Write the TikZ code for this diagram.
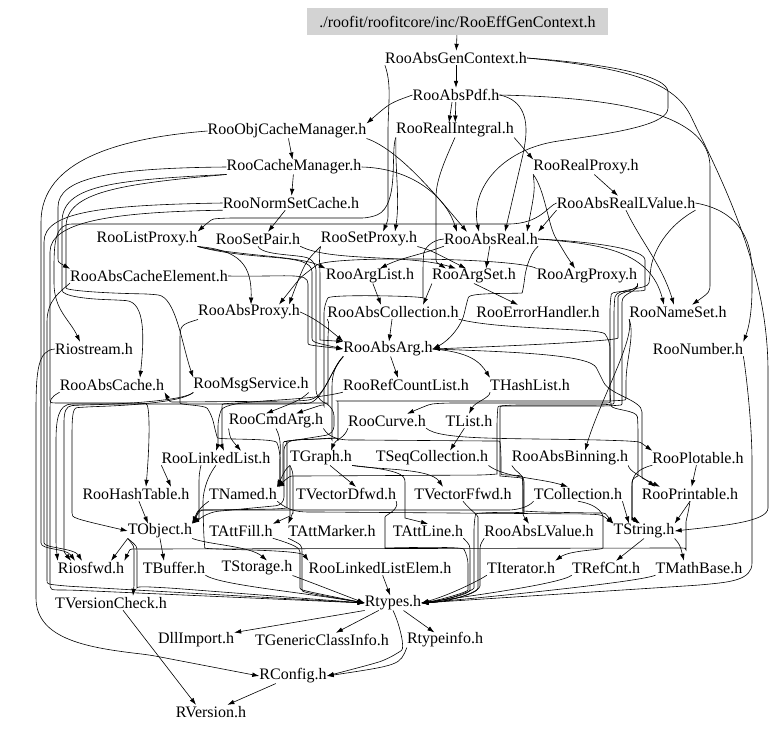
\documentclass[tikz,border=0pt]{standalone}
\usepackage{fontspec}
\setmainfont{Liberation Serif}
\usetikzlibrary{arrows.meta}
\definecolor{boxgray}{HTML}{D3D3D3}
\begin{document}
\begin{tikzpicture}[x=1pt,y=-1pt,
  n/.style={inner sep=0pt, minimum height=14pt, font=\fontsize{16}{18}\selectfont, anchor=center},
  e/.style={draw=black, line width=0.6pt, -{Latex[length=7pt,width=4.6pt]}, rounded corners=8pt}]
\useasboundingbox (0,0) rectangle (779,732);
% nodes
\node[n, fill=boxgray, minimum width=301pt, minimum height=27pt] (eff) at (457.5,21.5) {./roofit/roofitcore/inc/RooEffGenContext.h};
\node[n] (agc) at (456,58) {RooAbsGenContext.h};
\node[n] (pdf) at (456,95) {RooAbsPdf.h};
\node[n] (ocm) at (287,131) {RooObjCacheManager.h};
\node[n] (rri) at (455,130) {RooRealIntegral.h};
\node[n] (cm) at (294,167) {RooCacheManager.h};
\node[n] (rrp) at (586,167) {RooRealProxy.h};
\node[n] (nsc) at (291,203) {RooNormSetCache.h};
\node[n] (rarl) at (626,203) {RooAbsRealLValue.h};
\node[n] (lp) at (147,239) {RooListProxy.h};
\node[n] (sp) at (258,239) {RooSetPair.h};
\node[n] (setp) at (369,239) {RooSetProxy.h};
\node[n] (ar) at (491,239) {RooAbsReal.h};
\node[n] (ace) at (149,276) {RooAbsCacheElement.h};
\node[n] (al) at (370,276) {RooArgList.h};
\node[n] (as) at (474,276) {RooArgSet.h};
\node[n] (ap) at (587,276) {RooArgProxy.h};
\node[n] (apx) at (249,312) {RooAbsProxy.h};
\node[n] (ac) at (393,312) {RooAbsCollection.h};
\node[n] (eh) at (538,312) {RooErrorHandler.h};
\node[n] (ns) at (678,312) {RooNameSet.h};
\node[n] (ios) at (94,349) {Riostream.h};
\node[n] (aa) at (388,349) {RooAbsArg.h};
\node[n] (num) at (698,349) {RooNumber.h};
\node[n] (acache) at (112,385) {RooAbsCache.h};
\node[n] (msg) at (251,385) {RooMsgService.h};
\node[n] (rcl) at (406,385) {RooRefCountList.h};
\node[n] (hl) at (530,385) {THashList.h};
\node[n] (cmd) at (276,421) {RooCmdArg.h};
\node[n] (curve) at (387,421) {RooCurve.h};
\node[n] (tl) at (469,421) {TList.h};
\node[n] (ll) at (216,458) {RooLinkedList.h};
\node[n] (tg) at (321,458) {TGraph.h};
\node[n] (seq) at (432,458) {TSeqCollection.h};
\node[n] (bin) at (570,458) {RooAbsBinning.h};
\node[n] (plt) at (698,458) {RooPlotable.h};
\node[n] (ht) at (136,494) {RooHashTable.h};
\node[n] (tn) at (243,494) {TNamed.h};
\node[n] (vd) at (346,494) {TVectorDfwd.h};
\node[n] (vf) at (463,494) {TVectorFfwd.h};
\node[n] (tc) at (578,494) {TCollection.h};
\node[n] (prt) at (690,494) {RooPrintable.h};
\node[n] (tobj) at (160,531) {TObject.h};
\node[n] (fill) at (241,531) {TAttFill.h};
\node[n] (marker) at (332,531) {TAttMarker.h};
\node[n] (line) at (428,531) {TAttLine.h};
\node[n] (alv) at (539,531) {RooAbsLValue.h};
\node[n] (ts) at (644,531) {TString.h};
\node[n] (fwd) at (91,568) {Riosfwd.h};
\node[n] (buf) at (174,568) {TBuffer.h};
\node[n] (stor) at (257,568) {TStorage.h};
\node[n] (lle) at (380,568) {RooLinkedListElem.h};
\node[n] (it) at (521,568) {TIterator.h};
\node[n] (rc) at (606,568) {TRefCnt.h};
\node[n] (mb) at (699,568) {TMathBase.h};
\node[n] (vc) at (111,603) {TVersionCheck.h};
\node[n] (rt) at (393,603) {Rtypes.h};
\node[n] (dll) at (196,640) {DllImport.h};
\node[n] (gci) at (322,640) {TGenericClassInfo.h};
\node[n] (rti) at (445,640) {Rtypeinfo.h};
\node[n] (rcfg) at (293,676) {RConfig.h};
\node[n] (rv) at (211,712) {RVersion.h};
% top
\draw[e] (eff) -- (agc);
\draw[e] (agc) -- (pdf);
\draw[e] (agc.south west) .. controls (392,85) and (388,105) .. (388,140) -- (388,205) .. controls (388,220) .. ([xshift=14pt]setp.north);
\draw[e] (agc.east) .. controls (610,64) and (668,76) .. (668,100) .. controls (668,124) and (620,132) .. (565,140) .. controls (500,150) and (470,190) .. ([xshift=-12pt]ar.north);
\draw[e] (agc.east) .. controls (630,68) and (675,82) .. (695,125) .. controls (740,215) and (768,290) .. (768,380) -- (768,500) .. controls (768,522) and (720,526) .. (ts.east);
\draw[e] (pdf) -- (rri);
\draw[e] ([xshift=-4pt]pdf.south) -- ([xshift=-6pt]rri.north);
\draw[e] (pdf.west) .. controls (390,103) .. (ocm.north east);
\draw[e] (pdf.east) .. controls (640,98) and (710,120) .. (710,175) -- (710,275) .. controls (710,292) .. ([xshift=14pt]ns.north);
\draw[e] (pdf.east) .. controls (525,100) and (528,122) .. (524,150) -- ([xshift=14pt]ar.north);
% ocm, rri
\draw[e] (ocm) -- (cm);
\draw[e] (ocm.west) .. controls (120,138) and (41,160) .. (41,230) -- (41,535) .. controls (41,550) and (66,548) .. ([xshift=-16pt]fwd.north);
\draw[e] (ocm.south east) .. controls (400,150) and (440,200) .. ([xshift=-24pt]ar.north);
\draw[e] (rri.south east) -- (rrp.north west);
\draw[e] (rri.south west) .. controls (395,170) and (400,200) .. ([xshift=26pt]setp.north);
\draw[e] (rri.south) .. controls (445,160) and (436,180) .. (436,205) -- (436,252) .. controls (436,262) .. ([xshift=-28pt]as.north);
\draw[e] (rri.south west) .. controls (390,150) and (400,205) .. (370,218) -- (225,218) .. controls (212,219) .. (lp.north east);
% cm
\draw[e] (cm) -- (nsc);
\draw[e] (cm.west) .. controls (110,168) and (58,178) .. (58,215) -- (58,250) .. controls (58,262) .. (ace.north west);
\draw[e] (cm.south west) .. controls (110,180) and (62,186) .. (62,230) -- (62,282) .. controls (62,296) and (85,299) .. (118,300) .. controls (146,302) and (144,340) .. ([xshift=28pt]acache.north);
\draw[e] (cm.south west) .. controls (120,184) and (66,192) .. (66,235) -- (66,280) .. controls (66,290) and (95,293) .. (150,294) .. controls (176,297) and (182,345) .. (msg.north west);
\draw[e] (cm.east) .. controls (410,168) and (445,195) .. ([xshift=-34pt]ar.north);
% rrp, nsc, rarl
\draw[e] (rrp) -- (rarl);
\draw[e] (rrp.south west) .. controls (545,190) and (548,225) .. (560,245) .. controls (566,255) .. ([xshift=-12pt]ap.north);
\draw[e] (rrp.south west) .. controls (535,190) .. ([xshift=36pt]ar.north);
\draw[e] (nsc) -- ([xshift=10pt]sp.north);
\draw[e] (nsc.west) .. controls (100,205) and (44,212) .. (44,250) -- (44,535) .. controls (44,548) and (74,548) .. ([xshift=-9pt]fwd.north);
\draw[e] (nsc.south west) .. controls (110,212) and (50,222) .. (50,260) -- (50,392) .. controls (50,403) .. (70,403) -- (138,403) .. controls (150,404) and (150,440) .. ([xshift=10pt]ht.north);
\draw[e] (rarl.south west) -- (ar.north east);
\draw[e] (rarl.east) .. controls (735,210) and (752,235) .. (752,280) .. controls (752,315) and (748,330) .. (num.north east);
\draw[e] (rarl.south) .. controls (640,240) and (662,265) .. ([xshift=-4pt]ns.north);
\draw[e] (rarl.west) .. controls (548,206) and (540,224) .. (500,224) -- (80,224) .. controls (56,224) and (54,240) .. (54,275) .. controls (54,310) and (70,320) .. ([xshift=-14pt]ios.north);
\draw[e] (rarl.south east) .. controls (660,230) and (652,260) .. (650,275) .. controls (648,290) and (616,288) .. (614,305) -- (614,395) .. controls (614,404) .. (600,405) -- (510,405) .. controls (500,406) .. (500,420) -- (500,468) .. controls (500,476) .. (512,477) .. controls (523,478) .. (523,490) -- (523,505) .. controls (523,515) .. ([xshift=-10pt]alv.north);
\draw[e] (ns.south west) .. controls (635,340) and (600,400) .. ([xshift=15pt]bin.north);
% lp, sp, setp, ar
\draw[e] (lp.south east) .. controls (240,250) and (252,265) .. ([xshift=2pt]apx.north);
\draw[e] (lp.south east) .. controls (240,256) and (300,256) .. (al.north west);
\draw[e] (lp.south east) .. controls (255,262) and (312,252) .. (312,280) -- (312,330) .. controls (312,342) .. (aa.west);
\draw[e] (sp.south east) .. controls (330,262) and (410,254) .. ([xshift=-18pt]as.north);
\draw[e] (sp.south) .. controls (262,256) and (300,254) .. (316,262) -- (316,398) -- (334,408) -- (334,434) -- (284,442) -- (284,505) -- (210,512) -- (tobj.north east);
\draw[e] (setp.south west) .. controls (318,252) and (320,260) .. (320,285) -- (320,332) .. controls (320,340) .. (aa.north west);
\draw[e] (setp.south west) .. controls (305,262) .. ([xshift=40pt]apx.north);
\draw[e] (setp.south east) .. controls (430,250) .. ([xshift=-8pt]as.north);
\draw[e] (ar) -- ([xshift=12pt]as.north);
\draw[e] (ar.south west) .. controls (420,255) and (400,258) .. ([xshift=10pt]al.north);
\draw[e] (ar.east) .. controls (600,244) and (650,250) .. ([xshift=-14pt]ns.north);
\draw[e] (ar.south east) .. controls (528,255) and (525,275) .. (524,285) .. controls (522,294) and (470,292) .. (466,305) .. controls (462,325) and (450,340) .. (aa.east);
\draw[e] (ar.west) .. controls (430,240) and (424,250) .. (423,262) -- (423,290) .. controls (423,296) and (330,294) .. (324,305) -- (324,398) .. controls (324,404) .. ([xshift=20pt]cmd.north);
\draw[e] (ar.east) .. controls (600,242) and (645,250) .. (645,268) -- (645,282) .. controls (645,292) and (612,290) .. (610,302) -- (610,394) .. controls (610,403) .. (590,403) -- (445,403) .. controls (430,404) .. ([xshift=20pt]curve.north);
% ace
\draw[e] (ace.east) .. controls (290,277) and (308,272) .. (308,292) -- (308,335) .. controls (308,345) .. (aa.west);
\draw[e] (ace.south west) .. controls (60,292) and (47,300) .. (47,330) -- (47,572) .. controls (47,584) .. (65,586) -- (rt.west);
% al, as, ap, apx, ac, ns
\draw[e] (al) -- ([xshift=-12pt]ac.north);
\draw[e] (as.south west) -- ([xshift=30pt]ac.north);
\draw[e] (as.south) -- ([xshift=-20pt]eh.north);
\draw[e] (ap.north west) .. controls (520,258) and (330,255) .. (310,270) .. controls (300,278) .. ([xshift=30pt]apx.north);
\draw[e] (ap.south east) .. controls (640,290) and (618,292) .. (618,305) -- (618,330) .. controls (618,340) and (560,344) .. (aa.east);
\draw[e] (ap.south east) .. controls (640,292) and (622,292) .. (622,310) -- (622,396) .. controls (622,405) .. (608,406) -- (508,406) .. controls (498,406) .. (497,418) -- (497,466) .. controls (497,474) .. (485,475) -- (300,476) .. controls (290,476) .. (tn.north east);
\draw[e] (apx.east) .. controls (315,318) and (330,330) .. (aa.north west);
\draw[e] (apx.south west) .. controls (180,325) .. (180,350) -- (180,395) .. controls (180,405) and (205,405) .. (212,415) -- (215,430) .. controls (218,440) and (275,438) .. (280,450) -- (280,478) .. controls (280,484) .. (tn.north east);
\draw[e] (ac) -- (aa);
\draw[e] (ac.south west) .. controls (330,322) and (328,330) .. (328,345) -- (328,396) .. controls (328,403) .. (318,403) -- (232,403) .. controls (222,404) .. (222,415) -- (222,440) .. controls (222,446) .. ([xshift=8pt]ll.north);
\draw[e] (ac.south east) .. controls (500,330) and (600,328) .. (610,340) -- (610,398) .. controls (612,410) and (637,410) .. (638,425) -- (638,468) .. controls (638,476) and (632,478) .. (632,490) -- (632,510) .. controls (632,517) .. ([xshift=-6pt]ts.north);
\draw[e] (ns.south west) .. controls (635,335) and (626,360) .. (626,390) .. controls (626,400) .. (612,401) -- (345,401) .. controls (338,401) .. (338,412) -- (338,432) .. controls (338,438) .. (320,439) -- (292,440) .. controls (287,441) .. (287,452) -- (287,500) .. controls (287,508) .. (278,509) -- (210,510) .. controls (198,510) .. (tobj.north east);
% ios, aa, num
\draw[e] (ios.west) .. controls (38,350) and (36,370) .. (36,420) -- (36,590) .. controls (36,640) and (90,648) .. (150,655) -- (rcfg.west);
\draw[e] (aa) -- ([xshift=-8pt]rcl.north);
\draw[e] (aa.east) .. controls (470,352) and (480,362) .. (hl.north west);
\draw[e] (aa.east) .. controls (520,352) and (590,355) .. (600,375) .. controls (610,395) and (642,400) .. (642,420) -- (642,470) .. controls (642,478) .. ([xshift=-30pt]prt.north);
\draw[e] (aa.south west) .. controls (335,365) and (332,375) .. (332,395) -- (332,432) .. controls (332,438) .. (318,439) -- (292,440) .. controls (283,442) .. (283,455) -- (283,478) .. controls (283,484) .. (tn.north east);
\draw[e] (aa.south west) .. controls (330,370) and (326,398) .. (300,401) -- (180,402) .. controls (170,402) .. (acache.south east);
\draw[e] (aa.south west) .. controls (330,372) and (322,402) .. (300,404) -- (80,404) .. controls (58,404) and (56,420) .. (56,450) -- (56,530) .. controls (56,545) .. (fwd.north west);
\draw[e] (num.south east) .. controls (745,365) and (752,420) .. (752,470) -- (752,555) .. controls (752,580) and (730,582) .. (700,585) -- (rt.east);
% acache, msg, rcl, hl
\draw[e] (acache.south west) .. controls (50,398) .. (50,420) -- (50,574) .. controls (50,590) .. (70,590) -- (rt.west);
\draw[e] (msg.south west) .. controls (185,400) and (130,404) .. (80,405) .. controls (66,406) and (64,412) .. (64,430) -- (64,540) .. controls (64,552) .. ([xshift=-20pt]fwd.north);
\draw[e] (msg.south west) .. controls (180,404) and (110,406) .. (85,407) .. controls (72,408) and (72,420) .. (72,450) -- (72,505) .. controls (72,518) .. (tobj.west);
\draw[e] (msg.south east) .. controls (300,400) .. ([xshift=-10pt]cmd.north);
\draw[e] (rcl.south west) .. controls (300,403) and (226,398) .. (218,418) -- (218,438) .. controls (218,445) .. (ll.north);
\draw[e] (hl.south west) .. controls (490,398) and (475,402) .. (tl.north);
% cmd, curve, tl
\draw[e] (cmd.south) .. controls (282,440) and (280,450) .. (280,470) .. controls (280,480) .. (tn.north east);
\draw[e] (cmd.south west) .. controls (230,438) .. ([xshift=25pt]ll.north);
\draw[e] (cmd.south east) .. controls (330,440) and (345,440) .. (360,440) -- (490,441) .. controls (500,441) .. (501,452) -- (501,466) .. controls (501,476) and (522,474) .. (523,485) -- (523,503) .. controls (523,511) .. (540,512) -- (595,513) .. controls (605,513) .. (ts.north west);
\draw[e] (curve.south west) .. controls (345,438) and (335,440) .. ([xshift=10pt]tg.north);
\draw[e] (curve.south east) .. controls (440,440) and (500,438) .. (600,440) -- (630,441) .. controls (640,442) .. (plt.north west);
\draw[e] (tl) -- ([xshift=18pt]seq.north);
% rank 458
\draw[e] ([xshift=-15pt]ll.south) .. controls (199,475) .. (199,495) -- (199,512) .. controls (199,518) .. (tobj.north east);
\draw[e] (ll.south west) -- ([xshift=35pt]ht.north);
\draw[e] (ll.south) .. controls (205,480) and (203,495) .. (203,510) -- (204,540) .. controls (205,550) and (300,549) .. (lle.north west);
\draw[e] (tg.south west) .. controls (285,470) .. (tn.north east);
\draw[e] (tg.south west) .. controls (290,472) .. (290,490) -- (290,508) .. controls (290,516) .. (fill.north east);
\draw[e] (tg.south west) .. controls (293,472) .. (293,490) -- (293,505) .. controls (293,512) .. (marker.north west);
\draw[e] (tg.south east) .. controls (400,470) and (405,475) .. (405,490) -- (405,510) .. controls (405,518) .. (line.north);
\draw[e] (tg) -- ([xshift=10pt]vd.north);
\draw[e] (tg.south east) .. controls (380,470) and (430,468) .. ([xshift=-20pt]vf.north);
\draw[e] (seq.south east) .. controls (505,478) and (540,478) .. ([xshift=-10pt]tc.north);
\draw[e] (bin.south west) .. controls (515,472) and (524,474) .. (524,490) -- (524,505) .. controls (524,512) and (476,512) .. (474,522) -- (474,580) .. controls (474,590) and (450,600) .. (rt.east);
\draw[e] (bin.south east) .. controls (630,472) and (640,475) .. ([xshift=-35pt]prt.north);
\draw[e] (plt.south west) .. controls (634,470) and (632,478) .. (632,495) -- (632,512) .. controls (632,518) .. ([xshift=-4pt]ts.north);
\draw[e] (plt) -- (prt);
% rank 494
\draw[e] (ht) -- ([xshift=-12pt]tobj.north);
\draw[e] (tn.south west) .. controls (200,508) .. (tobj.north east);
\draw[e] (tn.south east) .. controls (290,512) and (300,512) .. (320,512) -- (590,514) .. controls (602,515) .. (ts.north west);
\draw[e] (vd.south east) .. controls (400,510) and (385,515) .. (385,525) -- (385,540) .. controls (385,548) and (462,546) .. (468,556) -- (468,582) .. controls (468,592) and (440,600) .. (rt.east);
\draw[e] (vf.south) .. controls (470,510) and (478,515) .. (478,525) -- (478,580) .. controls (478,594) and (445,602) .. (rt.east);
\draw[e] (tc.south west) .. controls (528,508) and (515,510) .. (500,510) -- (215,510) .. controls (200,510) .. (tobj.north east);
\draw[e] (tc.south) .. controls (600,505) and (603,515) .. (603,525) -- (603,540) .. controls (603,550) and (570,550) .. (it.north east);
\draw[e] (tc.south east) -- ([xshift=-15pt]ts.north);
\draw[e] (prt.south) .. controls (688,515) and (686,520) .. (686,530) -- (686,542) .. controls (686,548) .. (670,548) -- (140,549) .. controls (130,549) .. (fwd.north east);
\draw[e] (prt.south) -- (ts.north east);
% rank 531
\draw[e] (tobj.south west) -- ([xshift=20pt]fwd.north);
\draw[e] (tobj.south) -- ([xshift=-10pt]buf.north);
\draw[e] (tobj.south east) .. controls (210,545) and (250,546) .. ([xshift=10pt]stor.north);
\draw[e] (tobj.south west) .. controls (134,546) .. (134,560) -- (134,578) .. controls (134,585) .. ([xshift=22pt]vc.north);
\draw[e] (tobj.south west) .. controls (137,546) .. (137,560) -- (137,580) .. controls (137,586) and (150,587) .. (170,588) -- (rt.west);
\draw[e] (fill.south east) .. controls (295,545) and (300,548) .. (300,560) -- (300,580) .. controls (300,590) .. (rt.west);
\draw[e] (marker.south west) .. controls (302,545) .. (302,560) -- (302,582) .. controls (302,592) .. (rt.west);
\draw[e] (line.south east) .. controls (470,545) .. (470,560) -- (470,582) .. controls (470,594) and (445,600) .. (rt.east);
\draw[e] (alv.south west) .. controls (480,545) .. (480,560) -- (480,578) .. controls (480,592) and (450,602) .. (rt.east);
\draw[e] (ts.south east) .. controls (680,545) .. ([xshift=-15pt]mb.north);
\draw[e] (ts.south) -- ([xshift=10pt]rc.north);
% rank 568
\draw[e] (buf.south east) .. controls (220,585) and (300,592) .. (rt.west);
\draw[e] (stor.south east) .. controls (310,582) .. (rt.west);
\draw[e] (lle) -- (rt);
\draw[e] (it.south west) .. controls (480,580) and (450,595) .. (rt.east);
\draw[e] (rc.south west) .. controls (560,584) and (470,596) .. (rt.east);
\draw[e] (mb.south west) .. controls (640,582) and (480,598) .. (rt.east);
% bottom
\draw[e] ([xshift=12pt]vc.south) -- ([xshift=-15pt]rv.north);
\draw[e] (rt.south west) -- (dll.north east);
\draw[e] (rt) -- (gci);
\draw[e] (rt) -- (rti);
\draw[e] (rt.south) .. controls (400,625) and (405,648) .. (395,655) .. controls (380,662) .. (rcfg.east);
\draw[e] (rti.south west) .. controls (400,665) .. (rcfg.east);
\draw[e] (rcfg) -- (rv);
\end{tikzpicture}
\end{document}
